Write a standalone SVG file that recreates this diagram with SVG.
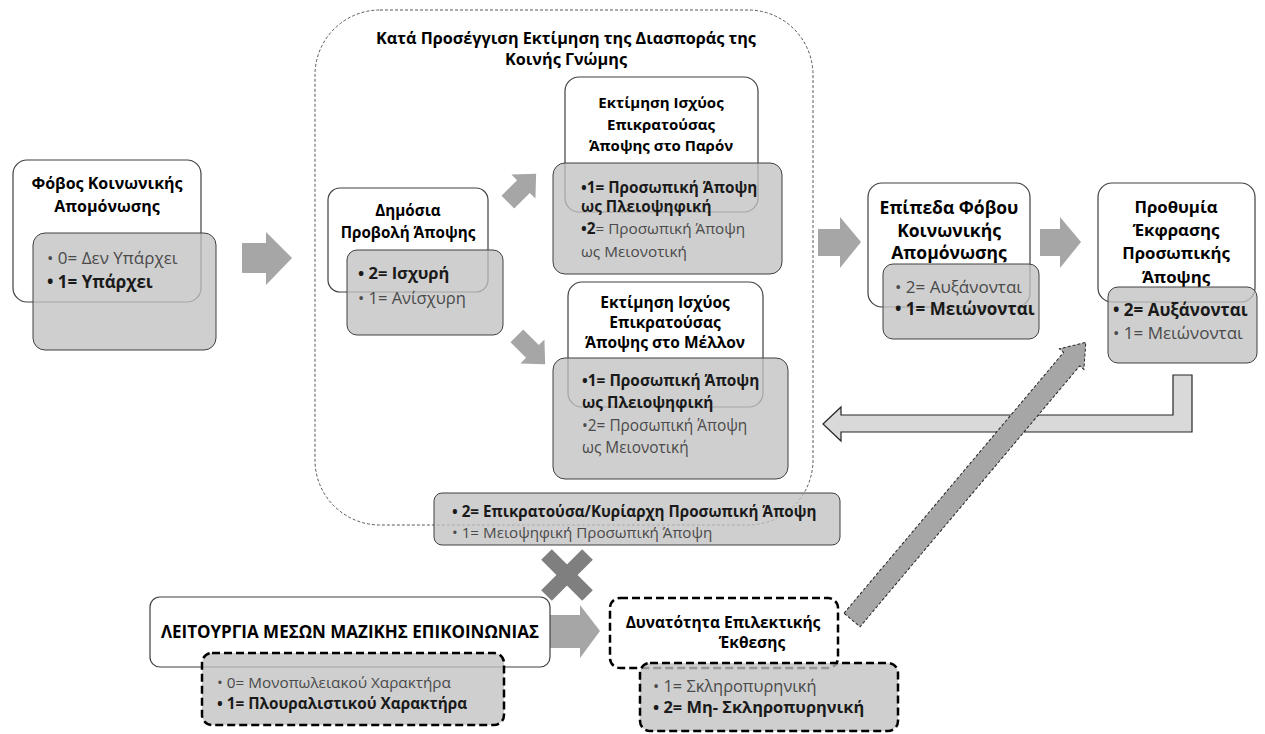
<svg xmlns="http://www.w3.org/2000/svg" width="1265" height="734" viewBox="0 0 1265 734">
<defs>
<style>
.w{fill:#fff;stroke:#404040;stroke-width:1.2}
.g{fill:#c2c2c2;fill-opacity:0.78;stroke:#404040;stroke-width:1}
.dsh{stroke:#000;stroke-width:2.5;stroke-dasharray:8 4}
.arr{fill:#a6a6a6}
text{font-family:"Open Sans","Noto Sans",sans-serif;font-size:15px}
.h{font-weight:bold;fill:#000;text-anchor:middle}
.r{fill:#4a4a4a}
.bo{font-weight:bold;fill:#1a1a1a}
</style>
</defs>
<rect x="0" y="0" width="1265" height="734" fill="#fff"/>

<g id="container">
<rect x="315" y="10" width="498" height="515" rx="65" fill="none" stroke="#595959" stroke-width="1" stroke-dasharray="3 2"/>
<text class="h" x="566" y="44" style="font-size:16.2px">Κατά Προσέγγιση Εκτίμηση της Διασποράς  της</text>
<text class="h" x="566" y="65" style="font-size:16.2px">Κοινής Γνώμης</text>
</g>

<g id="connectors">
<polygon class="arr" points="242,243 266,243 266,232 292,258 266,285 266,273 242,273"/>
<polygon class="arr" points="818,229 840,229 840,217 861,242 840,268 840,256 818,256"/>
<polygon class="arr" points="1040,229 1060,229 1060,217 1081,242 1060,268 1060,256 1040,256"/>
<polygon class="arr" points="548,615 580,615 580,605 600,631 580,658 580,648 548,648"/>
<polygon class="arr" transform="translate(522,188) rotate(-45)" points="-20,-9 2,-9 2,-17 20,0 2,17 2,9 -20,9"/>
<polygon class="arr" transform="translate(531,350) rotate(45)" points="-20,-9 2,-9 2,-17 20,0 2,17 2,9 -20,9"/>
<g id="xmark" transform="translate(567,575) rotate(45)" fill="#7f7f7f">
<rect x="-29" y="-7.5" width="58" height="15"/>
<rect x="-7.5" y="-29" width="15" height="58"/>
</g>
<polygon points="823,424 841,407 841,415 1173,415 1173,375 1192,375 1192,432 841,432 841,441" fill="#d9d9d9" stroke="#262626" stroke-width="1.2"/>
<polygon transform="translate(852,620) rotate(-49.9)" points="0,-10.5 341,-10.5 341,-16 363,0 341,16 341,10.5 0,10.5" fill="#a6a6a6" stroke="#262626" stroke-width="1" stroke-dasharray="3 2"/>
</g>

<g id="node-fovos">
<rect class="w" x="13" y="160" width="188" height="142" rx="14"/>
<text class="h" x="107" y="189" style="font-size:16px">Φόβος Κοινωνικής</text>
<text class="h" x="107" y="212" style="font-size:16px">Απομόνωσης</text>
<rect class="g" x="33" y="233" width="183" height="117" rx="12"/>
<text x="47" y="264" class="r" style="font-size:17px">• 0= Δεν Υπάρχει</text>
<text x="47" y="288" class="bo" style="font-size:17px">• 1= Υπάρχει</text>
</g>

<g id="node-dimosia">
<rect class="w" x="328" y="188" width="160" height="104" rx="12"/>
<text class="h" x="408" y="216" style="font-size:15.2px">Δημόσια</text>
<text class="h" x="408" y="238" style="font-size:15.2px">Προβολή Άποψης</text>
<rect class="g" x="347" y="250" width="156" height="85" rx="10"/>
<text x="358" y="279" class="bo" style="font-size:16.5px">• 2= Ισχυρή</text>
<text x="358" y="304" class="r" style="font-size:16.5px">• 1= Ανίσχυρη</text>
</g>

<g id="node-paron">
<rect class="w" x="565" y="77" width="193" height="135" rx="14"/>
<text class="h" x="661" y="108">Εκτίμηση Ισχύος</text>
<text class="h" x="661" y="130">Επικρατούσας</text>
<text class="h" x="661" y="151">Άποψης στο Παρόν</text>
<rect class="g" x="553" y="163" width="229" height="111" rx="12"/>
<text x="581" y="193" class="bo" style="font-size:15.3px">•1= Προσωπική Άποψη</text>
<text x="581" y="212" class="bo" style="font-size:15.3px">ως Πλειοψηφική</text>
<text x="581" y="234" class="r" style="font-size:15.3px"><tspan class="bo">•2</tspan>= Προσωπική Άποψη</text>
<text x="581" y="257" class="r" style="font-size:15.3px">ως Μειονοτική</text>
</g>

<g id="node-mellon">
<rect class="w" x="568" y="282" width="195" height="125" rx="14"/>
<text class="h" x="665" y="308" style="font-size:15.5px">Εκτίμηση Ισχύος</text>
<text class="h" x="665" y="328" style="font-size:15.5px">Επικρατούσας</text>
<text class="h" x="665" y="348" style="font-size:15.5px">Άποψης στο Μέλλον</text>
<rect class="g" x="553" y="358" width="235" height="121" rx="12"/>
<text x="582" y="386" class="bo" style="font-size:15.4px">•1= Προσωπική Άποψη</text>
<text x="582" y="408" class="bo" style="font-size:15.4px">ως Πλειοψηφική</text>
<text x="582" y="431" class="r" style="font-size:15.4px">•2= Προσωπική Άποψη</text>
<text x="582" y="453" class="r" style="font-size:15.4px">ως Μειονοτική</text>
</g>

<g id="node-epikratousa">
<rect class="g" x="434" y="493" width="406" height="52" rx="8"/>
<text x="452" y="517" class="bo" style="font-size:15.2px">• 2= Επικρατούσα/Κυρίαρχη Προσωπική Άποψη</text>
<text x="452" y="538" class="r" style="font-size:15.2px">• 1= Μειοψηφική Προσωπική Άποψη</text>
</g>

<g id="node-epipeda">
<rect class="w" x="868" y="183" width="162" height="124" rx="14"/>
<text class="h" x="949" y="214" style="font-size:17.5px">Επίπεδα Φόβου</text>
<text class="h" x="949" y="237" style="font-size:17.5px">Κοινωνικής</text>
<text class="h" x="949" y="259" style="font-size:17.5px">Απομόνωσης</text>
<rect class="g" x="883" y="264" width="156" height="75" rx="10"/>
<text x="895" y="293" class="r" style="font-size:17px">• 2= Αυξάνονται</text>
<text x="895" y="315" class="bo" style="font-size:17px">• 1= Μειώνονται</text>
</g>

<g id="node-prothymia">
<rect class="w" x="1098" y="183" width="157" height="119" rx="14"/>
<text class="h" x="1176" y="213" style="font-size:16.8px">Προθυμία</text>
<text class="h" x="1176" y="236" style="font-size:16.8px">Έκφρασης</text>
<text class="h" x="1176" y="259" style="font-size:16.8px">Προσωπικής</text>
<text class="h" x="1176" y="283" style="font-size:16.8px">Άποψης</text>
<rect class="g" x="1108" y="287" width="149" height="76" rx="10"/>
<text x="1113" y="316" class="bo" style="font-size:17px">• 2= Αυξάνονται</text>
<text x="1113" y="339" class="r" style="font-size:17px">• 1= Μειώνονται</text>
</g>

<g id="node-mme">
<rect class="w" x="150" y="597" width="400" height="70" rx="10"/>
<text class="h" x="350" y="638" style="font-size:17px">ΛΕΙΤΟΥΡΓΙΑ ΜΕΣΩΝ ΜΑΖΙΚΗΣ ΕΠΙΚΟΙΝΩΝΙΑΣ</text>
<rect class="g dsh" x="202" y="653" width="302" height="72" rx="10"/>
<text x="217" y="688" class="r" style="font-size:15.3px">• 0= Μονοπωλειακού Χαρακτήρα</text>
<text x="217" y="709" class="bo" style="font-size:15.3px">• 1= Πλουραλιστικού Χαρακτήρα</text>
</g>

<g id="node-dynatotita">
<rect class="w dsh" x="610" y="598" width="228" height="70" rx="10"/>
<text class="h" x="723" y="628" style="font-size:15.5px">Δυνατότητα Επιλεκτικής</text>
<text class="h" x="752" y="648" style="font-size:15.5px">Έκθεσης</text>
<rect class="g dsh" x="640" y="663" width="258" height="68" rx="10"/>
<text x="653" y="692" class="r" style="font-size:16.4px">• 1= Σκληροπυρηνική</text>
<text x="653" y="713" class="bo" style="font-size:16.4px">• 2= Μη- Σκληροπυρηνική</text>
</g>
</svg>
